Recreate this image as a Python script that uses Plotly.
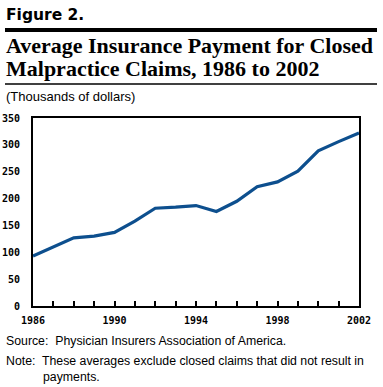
import plotly.graph_objects as go

years = list(range(1986, 2003))
payments = [93, 110, 127, 130, 137, 158, 182, 184, 187, 176, 195, 222, 231, 251, 289, 306, 322]
x_label_years = [1986, 1990, 1994, 1998, 2002]
y_ticks = [0, 50, 100, 150, 200, 250, 300, 350]

W, H = 383, 387
L, R, T, B = 33, 24, 118, 81
PH = H - T - B
PW = W - L - R

def py(ypx):
    return (H - B - ypx) / PH

def px(xpx):
    return (xpx - L) / PW

fig = go.Figure()
fig.add_trace(go.Scatter(x=years, y=payments, mode="lines",
                         line=dict(color="#0d4f8e", width=3.2), hoverinfo="skip"))

fig.update_layout(
    width=W, height=H, margin=dict(l=L, r=R, t=T, b=B, autoexpand=False),
    paper_bgcolor="white", plot_bgcolor="white", showlegend=False,
    xaxis=dict(range=[1986, 2002], tickvals=years, automargin=False,
               ticktext=[str(y) if y in x_label_years else "" for y in years],
               ticks="inside", ticklen=5, tickwidth=1.5, tickcolor="black",
               showline=True, linecolor="black", linewidth=2, mirror=True,
               showgrid=False, zeroline=False, ticklabelstandoff=4,
               tickfont=dict(family="DejaVu Sans Mono", size=10, color="black", weight="bold")),
    yaxis=dict(range=[0, 350], tickvals=y_ticks, ticks="", showline=True, automargin=False,
               linecolor="black", linewidth=2, mirror=True, showgrid=False, zeroline=False,
               ticklabelstandoff=9,
               tickfont=dict(family="DejaVu Sans Mono", size=10, color="black", weight="bold")),
)

anns = [
    dict(text="<b>Figure 2.</b>", x=px(4), y=py(15), font=dict(family="DejaVu Sans", size=15.5, color="black")),
    dict(text="<b>Average Insurance Payment for Closed</b>", x=px(4), y=py(46),
         font=dict(family="Liberation Serif", size=22, color="black")),
    dict(text="<b>Malpractice Claims, 1986 to 2002</b>", x=px(4), y=py(69),
         font=dict(family="Liberation Serif", size=22, color="black")),
    dict(text="(Thousands of dollars)", x=px(4), y=py(96),
         font=dict(family="Liberation Sans", size=13, color="black")),
    dict(text="Source:  Physician Insurers Association of America.", x=px(4), y=py(341),
         font=dict(family="Liberation Sans", size=12.3, color="black")),
    dict(text="Note:  These averages exclude closed claims that did not result in", x=px(4), y=py(361),
         font=dict(family="Liberation Sans", size=12.3, color="black")),
    dict(text="payments.", x=px(41), y=py(377),
         font=dict(family="Liberation Sans", size=12.3, color="black")),
]
for a in anns:
    a.update(xref="paper", yref="paper", xanchor="left", yanchor="middle", showarrow=False)
    fig.add_annotation(**a)

fig.add_shape(type="line", xref="paper", yref="paper", x0=px(5), x1=px(377), y0=py(30), y1=py(30),
              line=dict(color="black", width=4))
fig.add_shape(type="line", xref="paper", yref="paper", x0=px(5), x1=px(377), y0=py(84), y1=py(84),
              line=dict(color="black", width=1.3))

fig.write_html("out.html", config={"displayModeBar": False},
               post_script="document.body.style.margin='0';document.body.style.overflow='hidden';")
